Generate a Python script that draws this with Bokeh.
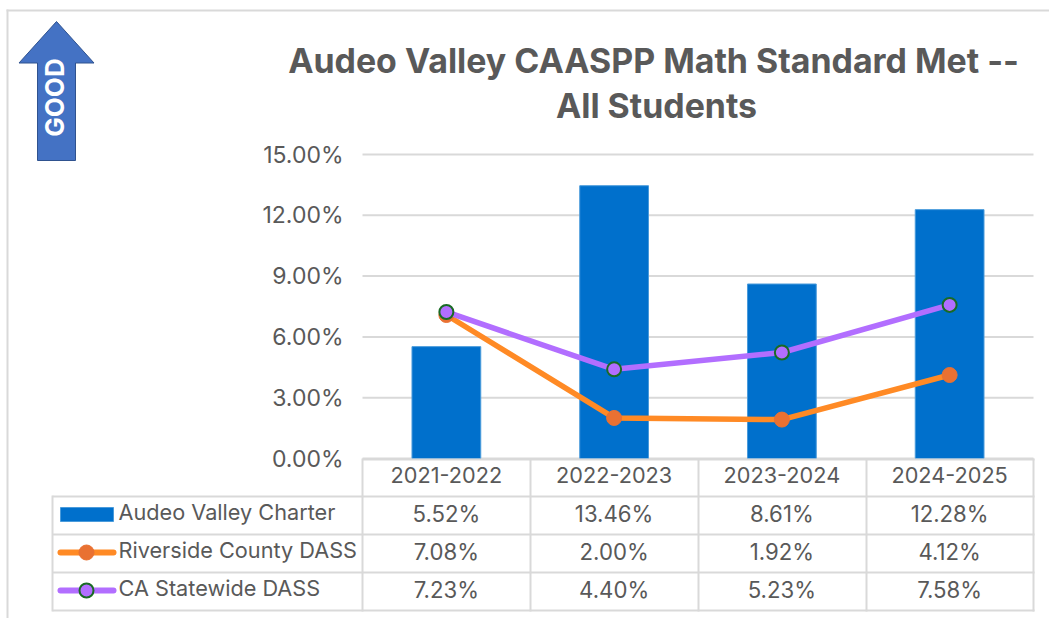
from bokeh.plotting import figure
from bokeh.models import Range1d, FixedTicker, PrintfTickFormatter, ColumnDataSource
from bokeh.core.properties import value
from bokeh.embed import file_html
from bokeh.resources import INLINE

years = ["2021-2022", "2022-2023", "2023-2024", "2024-2025"]
audeo = [5.52, 13.46, 8.61, 12.28]
riverside = [7.08, 2.00, 1.92, 4.12]
statewide = [7.23, 4.40, 5.23, 7.58]
y_ticks = [0, 3, 6, 9, 12, 15]
series_names = ["Audeo Valley Charter", "Riverside County DASS", "CA Statewide DASS"]
title_lines = ["Audeo Valley CAASPP Math Standard Met --", "All Students"]

W, H = 1049, 618
FL, FR, FT, FB = 362, 1033, 154, 458   # plot area edges in picture pixels
FONT = "Inter"
TXT = "#595959"
GRID = "#d9d9d9"

cx = [i + 0.5 for i in range(len(years))]
col = (FR - FL) / len(years)
unit = (FB - FT) / y_ticks[-1]

p = figure(width=W, height=H, output_backend="svg", toolbar_location=None,
           x_range=Range1d(-FL / col, (W - FL) / col),
           y_range=Range1d((FB - H) / unit, FB / unit),
           min_border_left=0, min_border_right=0, min_border_top=0, min_border_bottom=0)
p.extra_x_ranges["px"] = Range1d(0, W)
p.extra_y_ranges["px"] = Range1d(H, 0)
p.outline_line_color = None
p.background_fill_color = "white"
p.border_fill_color = "white"
p.xgrid.visible = False
p.ygrid.visible = False

ax = p.yaxis[0]
ax.fixed_location = 0
ax.ticker = FixedTicker(ticks=y_ticks)
ax.formatter = PrintfTickFormatter(format="%.2f%%")
ax.axis_line_color = None
ax.major_tick_line_color = None
ax.minor_tick_line_color = None
ax.major_label_text_font = FONT
ax.major_label_text_font_size = "23px"
ax.major_label_text_color = TXT
ax.major_label_standoff = 13

ax = p.xaxis[0]
ax.fixed_location = 0
ax.ticker = FixedTicker(ticks=cx)
ax.major_label_overrides = {c: y for c, y in zip(cx, years)}
ax.axis_line_color = None
ax.major_tick_line_color = None
ax.minor_tick_line_color = None
ax.major_label_text_font = FONT
ax.major_label_text_font_size = "21.7px"
ax.major_label_text_color = TXT
ax.major_label_standoff = 2

PX = dict(x_range_name="px", y_range_name="px")

# horizontal gridlines across the plot area
p.segment(x0=[0] * len(y_ticks), x1=[len(years)] * len(y_ticks), y0=y_ticks, y1=y_ticks,
          line_color=GRID, line_width=2)

src = ColumnDataSource(dict(x=cx, audeo=audeo, riverside=riverside, statewide=statewide))
p.vbar(x="x", top="audeo", width=0.41, source=src, fill_color="#0070CC", line_color="#4A9BDB", line_width=1)
p.line(x="x", y="riverside", source=src, line_color="#FF8A25", line_width=5.5)
p.scatter(x="x", y="riverside", source=src, size=15, fill_color="#E97132", line_color="#E97132", line_width=1)
p.line(x="x", y="statewide", source=src, line_color="#B26EFF", line_width=5.5)
p.scatter(x="x", y="statewide", source=src, size=14, fill_color="#B26EFF", line_color="#196B24", line_width=2)

def rule(x0, x1, y0, y1):
    p.segment(x0=[x0], x1=[x1], y0=[y0], y1=[y1], line_color=GRID, line_width=2, **PX)

def label(x, y, s, size, align="center", bold=False, color=TXT, angle=0):
    p.text(x=[x], y=[y], text=[s], text_font=value(FONT), text_font_size=value(size), text_color=color,
           text_align=align, text_baseline="middle", text_font_style="bold" if bold else "normal",
           angle=angle, **PX)

# chart frame
rule(7, 7, 9, 618)
rule(6, 1049, 10, 10)

# data table rules
for yy in (459, 496, 534, 572, 610):
    rule(52 if yy > 459 else 362, 1034, yy, yy)
rule(52, 52, 495, 611)
for xx in (362, 530, 698, 866, 1033):
    rule(xx, xx, 458, 611)

# data table cells
row_y = [514, 552, 590]
cell_x = [FL + col * c for c in cx]
for vals, yy in zip((audeo, riverside, statewide), row_y):
    for xx, v in zip(cell_x, vals):
        label(xx, yy - 1, f"{v:.2f}%", "22.2px")

# legend keys
for name, yy in zip(series_names, row_y):
    label(118, yy - 3, name, "21.7px", align="left")
p.quad(left=[60], right=[113], top=[507], bottom=[521], fill_color="#0070CC", line_color="#4A9BDB", line_width=1, **PX)
p.segment(x0=[60], x1=[113], y0=[552], y1=[552], line_color="#FF8A25", line_width=6, line_cap="round", **PX)
p.scatter(x=[86], y=[552], size=15, fill_color="#E97132", line_color="#E97132", line_width=1, **PX)
p.segment(x0=[60], x1=[113], y0=[590], y1=[590], line_color="#B26EFF", line_width=6, line_cap="round", **PX)
p.scatter(x=[86], y=[590], size=14, fill_color="#B26EFF", line_color="#196B24", line_width=2, **PX)

# title
label(653, 60, title_lines[0], "33.9px", bold=True)
label(656, 105, title_lines[1], "33.9px", bold=True)

# GOOD arrow
p.patch(x=[56, 93.5, 75, 75, 37, 37, 18.5], y=[21, 62.5, 62.5, 160, 160, 62.5, 62.5],
        fill_color="#4472C4", line_color="#2F528F", line_width=1, **PX)
label(54, 97, "GOOD", "26px", bold=True, color="white", angle=1.5708)

open("out.html", "w").write(file_html(p, INLINE))
